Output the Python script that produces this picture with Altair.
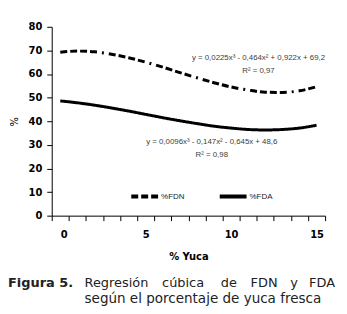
import altair as alt
import pandas as pd

# Data
yuca = list(range(16))
fdn = [69.2, 69.7, 69.4, 68.4, 66.9, 65.0, 62.9, 60.6, 58.4, 56.3, 54.5, 53.2, 52.3, 52.2, 52.9, 54.6]
fda = [48.6, 47.8, 46.8, 45.6, 44.3, 42.9, 41.5, 40.2, 39.0, 37.9, 37.1, 36.5, 36.3, 36.5, 37.1, 38.3]
series_names = ["%FDN", "%FDA"]
x_tick_values = [v - 0.5 for v in range(17)]
y_tick_values = list(range(0, 81, 10))

eq_fdn = ["y = 0,0225x³ - 0,464x² + 0,922x  + 69,2", "R² = 0,97"]
eq_fda = ["y = 0,0096x³ - 0,147x² - 0,645x + 48,6", "R² = 0,98"]
caption_label = "Figura 5."
caption_line1 = ["Regresión", "cúbica", "de", "FDN", "y"]
caption_line1_end = "FDA"
caption_line2 = "según el porcentaje de yuca fresca"

df = pd.DataFrame({
    "x": yuca + yuca,
    "y": fdn + fda,
    "series": [series_names[0]] * len(yuca) + [series_names[1]] * len(yuca),
})

W, H = 275, 190
AXIS_FONT = "DejaVu Sans"

lines = alt.Chart(df).mark_line(color="black", strokeWidth=3, interpolate="monotone").encode(
    x=alt.X("x:Q", scale=alt.Scale(domain=[-0.5, 15.5], nice=False, zero=False),
            axis=alt.Axis(values=x_tick_values, labelOffset=8.6, labelOverlap=False,
                          labelExpr="((datum.value + 0.5) % 5 == 0 && datum.value < 15) ? format(datum.value + 0.5, 'd') : ''",
                          title="% Yuca", titleY=41, titleBaseline="middle",
                          grid=False, tickSize=5, labelPadding=9, domainColor="black", tickColor="black",
                          labelFont=AXIS_FONT, labelFontWeight="bold", labelFontSize=10, labelColor="black",
                          titleFont=AXIS_FONT, titleFontWeight="bold", titleFontSize=10, titleColor="black")),
    y=alt.Y("y:Q", scale=alt.Scale(domain=[0, 80], nice=False),
            axis=alt.Axis(values=y_tick_values, title="%", titleX=-37, titleY=95, titleAngle=-90,
                          titleAlign="center", titleBaseline="middle",
                          grid=False, tickSize=5, labelPadding=5, domainColor="black", tickColor="black",
                          labelFont=AXIS_FONT, labelFontWeight="bold", labelFontSize=10, labelColor="black",
                          titleFont=AXIS_FONT, titleFontWeight="normal", titleFontSize=10, titleColor="black")),
    strokeDash=alt.StrokeDash("series:N",
                              scale=alt.Scale(domain=series_names,
                                              range=[[7, 3, 7, 3, 7, 3, 7, 5, 2, 5], [1, 0]]),
                              legend=alt.Legend(orient="none", legendX=78, legendY=155, direction="horizontal",
                                                title=None, symbolType="stroke", symbolStrokeWidth=4,
                                                symbolSize=729, symbolStrokeColor="black", padding=0,
                                                columnPadding=27, labelOffset=1, labelFont="Liberation Sans",
                                                labelFontSize=8, labelColor="#222")),
)

def text_layer(texts, xs, ys, align="center", font="Liberation Sans", size=7.9, weight="normal", color="#404040"):
    d = pd.DataFrame({"t": texts, "px": xs, "py": ys})
    return alt.Chart(d).mark_text(align=align, baseline="alphabetic", font=font, fontSize=size,
                                  fontWeight=weight, color=color).encode(
        x=alt.X("px:Q", scale=None), y=alt.Y("py:Q", scale=None), text="t:N")

ann1 = text_layer(eq_fdn, [208, 208], [33, 46])
ann2 = text_layer(eq_fda, [161, 161], [118, 131])

cap_font = "DejaVu Sans"
cap0 = text_layer([caption_label], [-44], [262], align="left", font="DejaVu Sans", size=13,
                  weight="bold", color="#222")
cap1 = text_layer(caption_line1, [33, 111, 170, 200, 240], [262] * 5, align="left",
                  font=cap_font, size=13, color="#222")
cap1e = text_layer([caption_line1_end], [285], [262], align="right",
                   font=cap_font, size=13, color="#222")
cap2 = text_layer([caption_line2], [33], [278], align="left", font=cap_font, size=13.6, color="#222")

chart = alt.layer(lines, ann1, ann2, cap0, cap1, cap1e, cap2).properties(
    width=W, height=H,
    autosize=alt.AutoSizeParams(type="none"),
    padding={"left": 44, "top": 18, "right": 14, "bottom": 91},
).configure_view(stroke=None)

chart.save("out.html", embed_options={"renderer": "svg", "actions": False})
